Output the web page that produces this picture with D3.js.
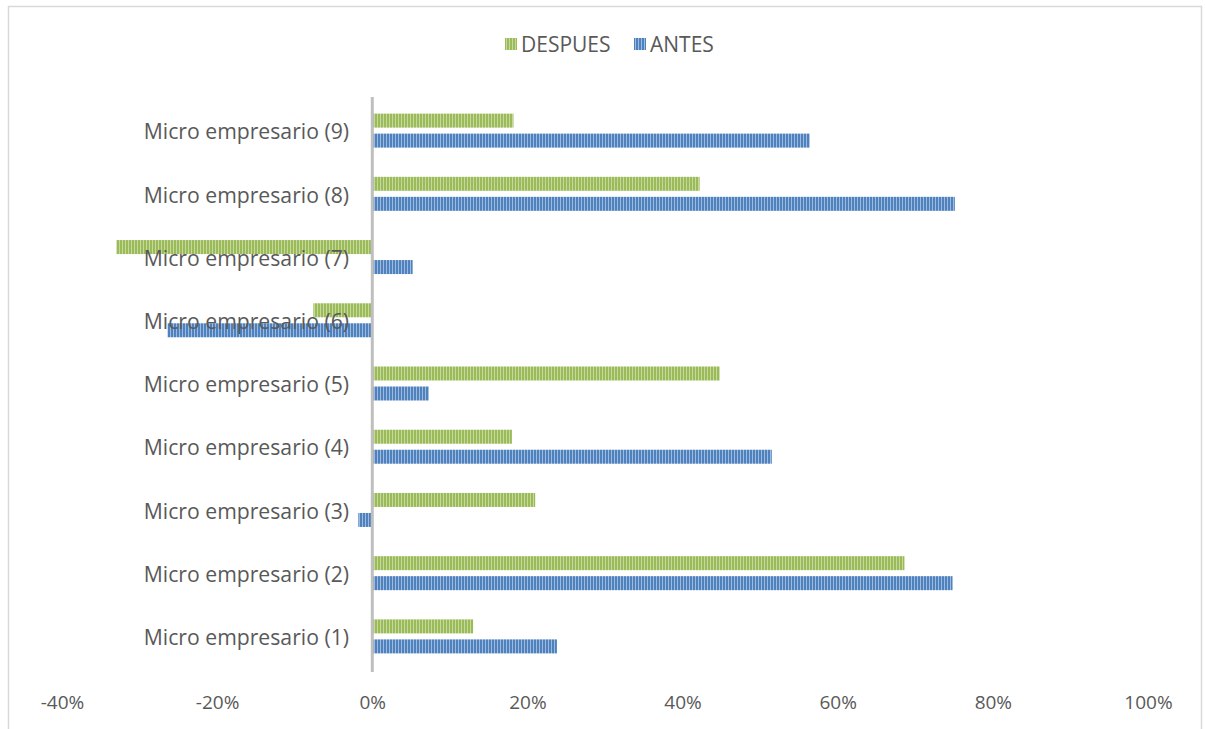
<!DOCTYPE html>
<html><head><meta charset="utf-8">
<script src="https://cdn.jsdelivr.net/npm/d3@7"></script>
<style>body{margin:0;background:#fff;}svg{display:block;font-family:"Open Sans",sans-serif;}</style>
</head><body>
<svg id="chart" width="1205" height="729"></svg>
<script>
const categories = ["Micro empresario (1)","Micro empresario (2)","Micro empresario (3)","Micro empresario (4)","Micro empresario (5)","Micro empresario (6)","Micro empresario (7)","Micro empresario (8)","Micro empresario (9)"];
const seriesNames = ["DESPUES","ANTES"];
const despues = [0.130, 0.686, 0.210, 0.180, 0.448, -0.076, -0.330, 0.422, 0.182];
const antes   = [0.238, 0.748, -0.018, 0.515, 0.073, -0.264, 0.052, 0.751, 0.564];
const xTicks = [-0.4,-0.2,0,0.2,0.4,0.6,0.8,1.0];

const svg = d3.select("#chart");
const defs = svg.append("defs");
const pats = {DESPUES:{id:"pG",base:"#9bbb59",light:"#c5d99f"}, ANTES:{id:"pB",base:"#4f81bd",light:"#9dbbe0"}};
Object.values(pats).forEach(p=>{
  const pt = defs.append("pattern").attr("id",p.id).attr("patternUnits","userSpaceOnUse").attr("width",3).attr("height",10);
  pt.append("rect").attr("width",3).attr("height",10).attr("fill",p.base);
  pt.append("rect").attr("x",2).attr("width",1).attr("height",10).attr("fill",p.light);
});

svg.append("rect").attr("x",8.5).attr("y",6.5).attr("width",1193).attr("height",740).attr("fill","none").attr("stroke","#d9d9d9").attr("stroke-width",1.5);

const x = d3.scaleLinear().domain([-0.4,1.0]).range([62,1148]);
const y = d3.scaleBand().domain(categories.slice().reverse()).range([99,668]).paddingInner(0);
const sub = d3.scaleBand().domain(seriesNames).range([y.bandwidth()/2-17, y.bandwidth()/2+17]).paddingInner(0.3);

const data = categories.map((c,i)=>({cat:c, vals:[{s:"DESPUES",v:despues[i]},{s:"ANTES",v:antes[i]}]}));
const g = svg.append("g");
data.forEach(d=>{
  d.vals.forEach(e=>{
    g.append("rect")
      .attr("x", x(Math.min(0,e.v)))
      .attr("width", Math.abs(x(e.v)-x(0)))
      .attr("y", y(d.cat)+sub(e.s))
      .attr("height", sub.bandwidth())
      .attr("fill", "url(#"+pats[e.s].id+")");
  });
});

svg.append("line").attr("x1",x(0)).attr("x2",x(0)).attr("y1",97).attr("y2",672).attr("stroke","#bfbfbf").attr("stroke-width",3);

svg.append("g").selectAll("text").data(categories).join("text")
  .attr("x",349).attr("y",c=>y(c)+y.bandwidth()/2+3)
  .attr("text-anchor","end").attr("dominant-baseline","middle")
  .attr("font-size",21.2).attr("fill","#595959").text(c=>c);

const fmt = d=>Math.round(d*100)+"%";
const xAxis = d3.axisBottom(x).tickValues(xTicks).tickFormat(fmt).tickSize(0).tickPadding(0);
const ax = svg.append("g").attr("transform","translate(0,695)").call(xAxis);
ax.select(".domain").remove();
ax.selectAll("text").attr("font-size",19).attr("fill","#595959").attr("font-family","Open Sans, sans-serif");

const leg = svg.append("g");
const legItems = [{s:"DESPUES",x:505},{s:"ANTES",x:634}];
legItems.forEach(l=>{
  leg.append("rect").attr("x",l.x).attr("y",38).attr("width",12).attr("height",12).attr("fill","url(#"+pats[l.s].id+")");
  leg.append("text").attr("x",l.x+16).attr("y",46).attr("dominant-baseline","middle").attr("font-size",21).attr("fill","#595959").text(l.s);
});
</script>
</body></html>
